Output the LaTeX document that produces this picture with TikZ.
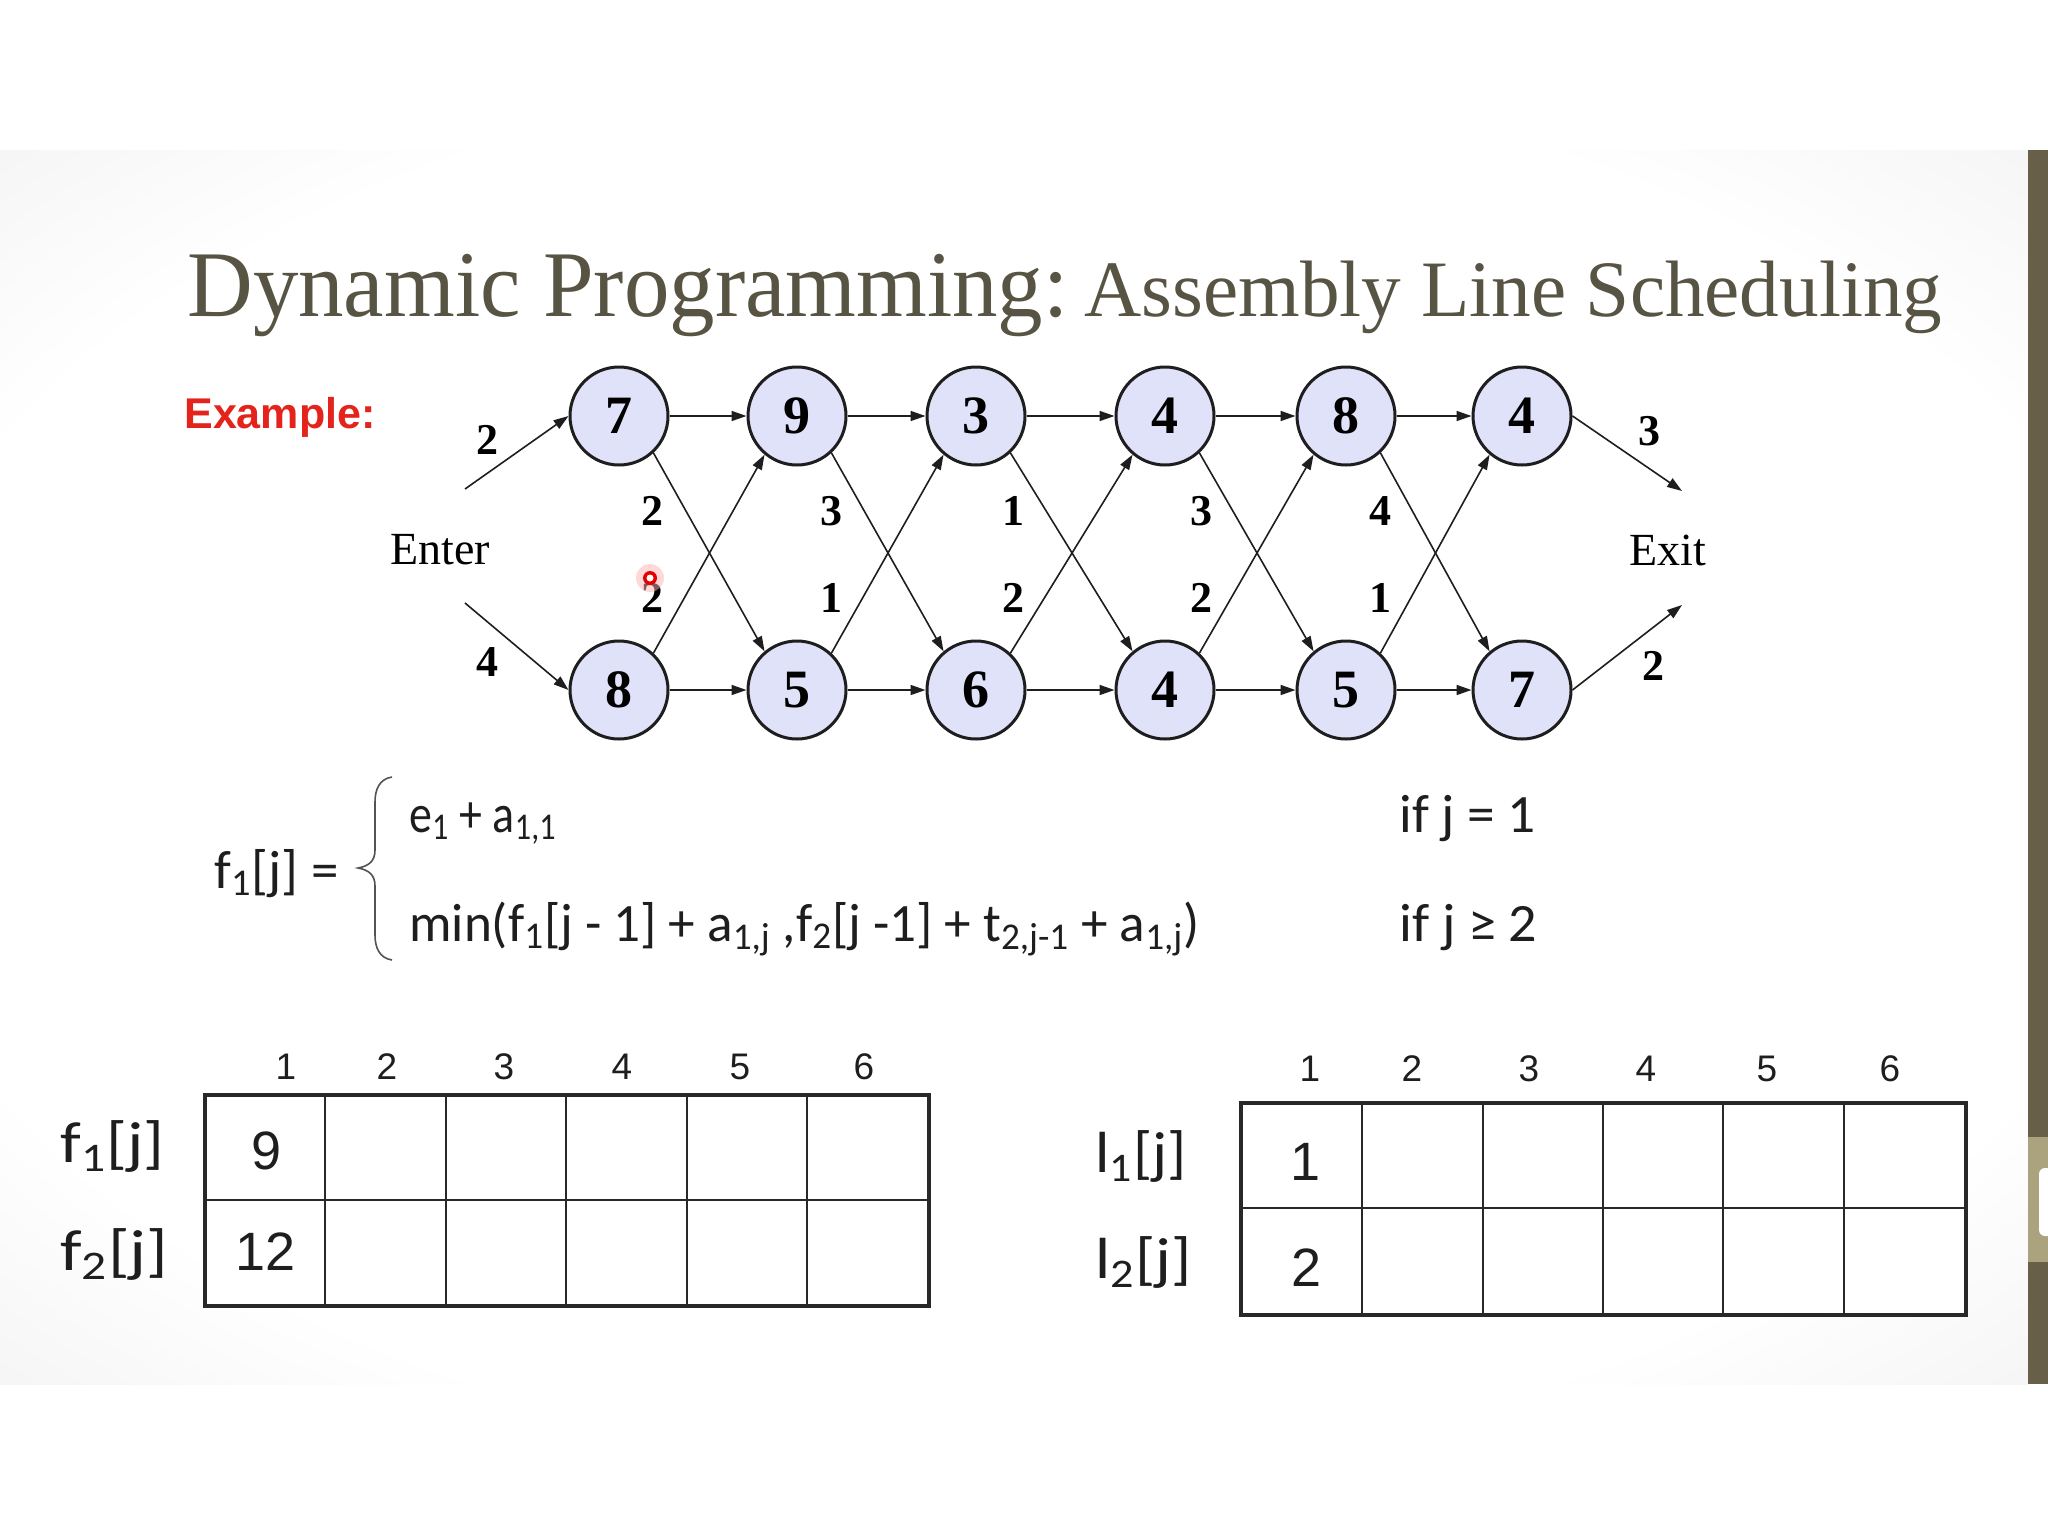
\documentclass[tikz,border=0pt]{standalone}
\usepackage{fontspec}
\setmainfont{Liberation Serif}
\newfontfamily\sansA{Liberation Sans}
\newfontfamily\formfont{Carlito}
\usetikzlibrary{arrows.meta}
\definecolor{titlecol}{RGB}{88,84,68}
\definecolor{lav}{RGB}{224,226,250}
\definecolor{exred}{RGB}{228,36,28}
\definecolor{barcol}{RGB}{104,95,72}
\definecolor{barlight}{RGB}{170,163,125}
\definecolor{inkc}{RGB}{30,30,30}
\definecolor{gridc}{RGB}{40,40,40}
\pgfdeclareradialshading{slidebg}{\pgfpoint{0bp}{0bp}}{color(0bp)=(white); color(28bp)=(white); color(50bp)=(black!11); color(72bp)=(black!24)}
\newcommand\sbs[1]{\textsubscript{#1}}
\begin{document}
\begin{tikzpicture}[x=0.5pt,y=-0.5pt,
  station/.style={circle, draw=inkc, line width=1.5pt, fill=lav, minimum size=49pt, inner sep=0pt,
    font=\bfseries\fontsize{27}{27}\selectfont},
  lbl/.style={inner sep=0pt, font=\bfseries\fontsize{22}{22}\selectfont},
  arr/.style={-{Triangle[length=7.5pt,width=5pt]}, line width=0.8pt, draw=inkc},
  plain/.style={inner sep=0pt, font=\fontsize{23}{23}\selectfont},
  form/.style={inner sep=0pt, text=inkc, font=\formfont\fontsize{27}{27}\selectfont},
  rowlab/.style={inner sep=0pt, text=inkc, font=\formfont\fontsize{29}{29}\selectfont},
  hdr/.style={inner sep=0pt, text=inkc, font=\sansA\fontsize{18.5}{18.5}\selectfont},
  cell/.style={inner sep=0pt, text=inkc, font=\sansA\fontsize{27}{27}\selectfont},
  thickgrid/.style={draw=gridc, line width=2pt},
  thingrid/.style={draw=gridc, line width=1pt}]
\useasboundingbox (0,0) rectangle (2048,1536);
\fill[white] (0,0) rectangle (2048,1536);
\shade[shading=slidebg] (0,150) rectangle (2028,1384);
% right bar
\fill[barcol] (2028,150) rectangle (2048,1384);
\fill[barlight] (2028,1137) rectangle (2048,1262);
\fill[white, rounded corners=3pt] (2039,1168) rectangle (2056,1236);

% title
\node[anchor=base west, inner sep=0pt, text=titlecol] (title1) at (187,316)
  {\scalebox{0.967}[1]{\fontsize{47}{47}\selectfont Dynamic Programming:}};
\node[anchor=base west, inner sep=0pt, text=titlecol] (title2) at (1084,316)
  {\scalebox{0.99}[1]{\fontsize{40}{40}\selectfont Assembly Line Scheduling}};
\node[anchor=base west, inner sep=0pt, text=exred, font=\sansA\bfseries\fontsize{21.5}{21.5}\selectfont] (example) at (184,428) {Example:};

% stations
\foreach \n/\x/\v in {1/619/7, 2/797/9, 3/976/3, 4/1165/4, 5/1346/8, 6/1522/4}
  \node[station] (t\n) at (\x,416) {\v};
\foreach \n/\x/\v in {1/619/8, 2/797/5, 3/976/6, 4/1165/4, 5/1346/5, 6/1522/7}
  \node[station] (b\n) at (\x,690) {\v};

\foreach \a/\b in {1/2,2/3,3/4,4/5,5/6}{
  \draw[arr] (t\a) -- (t\b);
  \draw[arr] (b\a) -- (b\b);
  \draw[arr] (t\a.-47) -- (b\b.130);
  \draw[arr] (b\a.47) -- (t\b.-130);
}

% enter / exit
\node[plain] (enter) at (440,550) {Enter};
\node[plain] (exit) at (1668,550) {Exit};
\coordinate (en1) at (465,489);
\coordinate (en2) at (465,603);
\coordinate (ex1) at (1682,491);
\coordinate (ex2) at (1682,605);
\draw[arr] (en1) -- (t1.west);
\draw[arr] (en2) -- (b1.west);
\draw[arr] (t6.east) -- (ex1);
\draw[arr] (b6.east) -- (ex2);

% edge labels
\node[lbl] (le1) at (487,440) {2};
\node[lbl] (le2) at (487,662) {4};
\node[lbl] (lx1) at (1649,431) {3};
\node[lbl] (lx2) at (1653,666) {2};
\foreach \n/\x/\u/\d in {1/652/2/2, 2/831/3/1, 3/1013/1/2, 4/1201/3/2, 5/1380/4/1}{
  \node[lbl] (lu\n) at (\x,511) {\u};
  \node[lbl] (ld\n) at (\x,598) {\d};
}

% pointer dot
\fill[red!30, opacity=0.5] (650,578) circle (14);
\fill[red!90!black] (650,578) circle (7);
\fill[white] (650,578) circle (3.5);

% formula
\node[form, anchor=base west] (fj) at (214,888) {\resizebox{62pt}{\height}{f\sbs{1}[j] =}};
\draw[gridc!80, line width=0.8pt] (392,777) .. controls (379,779) and (375,790) .. (375,802)
  -- (375,850) .. controls (375,861) and (369,866) .. (358,868)
  .. controls (369,870) and (375,875) .. (375,886)
  -- (375,935) .. controls (375,947) and (379,958) .. (392,960);
\node[form, anchor=base west] (case1) at (409,832) {\resizebox{73.5pt}{\height}{e\sbs{1} + a\sbs{1,1}}};
\node[form, anchor=base west] (case2) at (409,941) {\resizebox{395pt}{\height}{min(f\sbs{1}[j - 1] + a\sbs{1,j} ,f\sbs{2}[j -1] + t\sbs{2,j-1} + a\sbs{1,j})}};
\node[form, anchor=base west] (cond1) at (1399,832) {\resizebox{68pt}{\height}{if j = 1}};
\node[form, anchor=base west] (cond2) at (1399,941) {\resizebox{69pt}{\height}{if j ≥ 2}};

% left table
\fill[white] (205,1095) rectangle (929,1306);
\foreach \x in {325,446,566,687,807} \draw[thingrid] (\x,1095) -- (\x,1306);
\draw[thingrid] (205,1200) -- (929,1200);
\draw[thickgrid] (205,1095) rectangle (929,1306);
\foreach \n/\x in {1/286,2/387,3/504,4/622,5/740,6/864}
  \node[hdr] (fh\n) at (\x,1067) {\n};
\node[rowlab, anchor=base west] (frow1) at (60,1162) {\resizebox{52pt}{\height}{f\sbs{1}[j]}};
\node[rowlab, anchor=base west] (frow2) at (60,1270) {\resizebox{54pt}{\height}{f\sbs{2}[j]}};
\node[cell] (fc1) at (267,1151) {9};
\node[cell] (fc2) at (266,1252) {12};

% right table
\fill[white] (1241,1103) rectangle (1966,1315);
\foreach \x in {1362,1483,1603,1723,1844} \draw[thingrid] (\x,1103) -- (\x,1315);
\draw[thingrid] (1241,1208) -- (1966,1208);
\draw[thickgrid] (1241,1103) rectangle (1966,1315);
\foreach \n/\x in {1/1310,2/1412,3/1529,4/1646,5/1767,6/1890}
  \node[hdr] (lh\n) at (\x,1069) {\n};
\node[rowlab, anchor=base west] (lrow1) at (1095,1172) {\resizebox{45.5pt}{\height}{l\sbs{1}[j]}};
\node[rowlab, anchor=base west] (lrow2) at (1095,1278) {\resizebox{48pt}{\height}{l\sbs{2}[j]}};
\node[cell] (lc1) at (1305,1162) {1};
\node[cell] (lc2) at (1306,1268) {2};
\end{tikzpicture}
\end{document}
